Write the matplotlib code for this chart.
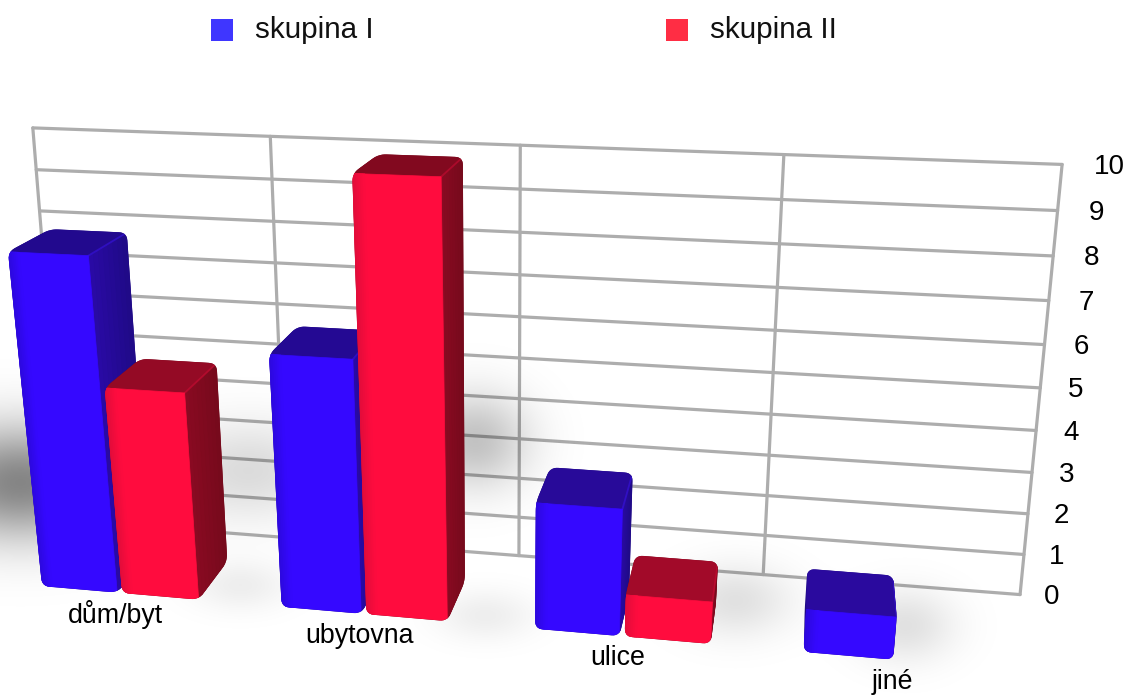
import numpy as np
import matplotlib
matplotlib.use("Agg")
import matplotlib.pyplot as plt
from matplotlib.patches import Polygon, Rectangle
from matplotlib.colors import to_rgb

# ---- data -----------------------------------------------------------
categories = ["dům/byt", "ubytovna", "ulice", "jiné"]
series_names = ["skupina I", "skupina II"]
skupina_1 = [8, 6, 3, 1]
skupina_2 = [5, 10, 1, 0]
y_ticks = list(range(0, 11))

# ---- perspective calibration (world x/value -> picture pixels) -------
WALL = [(0,10,32,127),(1,10,270,137),(2,10,520,146),(3,10,785,155),(4,10,1062,165),
        (2,0,520,555),(3,0,762,575),(4,0,1020,597),(0,8,40,212),(2,5,520,356),(4,5,1040,385)]
FRONT = [(.17,0,43,587),(.17,8,9,253),(.49,0,118,592),(.49,8,87,255),
         (.51,0,122,593),(.51,5,104,388),(.83,0,195,599),(.83,5,183,393),
         (1.17,0,283,607),(1.17,6,271,353),(1.49,0,362,613),(1.49,6,357,360),
         (1.51,0,366,615),(1.51,10,352,173),(1.83,0,445,622),(1.83,10,439,177),
         (2.17,0,537,628),(2.17,3,537,502),(2.49,0,620,636),(2.49,3,622,510),
         (2.51,0,624,636),(2.51,1,626,595),(2.83,0,709,644),(2.83,1,713,603),
         (3.17,0,805,652),(3.17,1,805,608),(3.49,0,893,660),(3.49,1,897,618)]
BACK = [(.17,8,50,229),(.49,8,125,233),(.51,5,142,359),(.83,5,215,363),(.83,0,227,560),
        (1.17,6,300,327),(1.51,10,382,154),(1.83,10,459,157),(1.83,0,464,583),
        (2.17,3,552,467),(2.49,3,633,473),(2.51,1,635,554),(2.83,1,717,562),(2.83,0,716,604),
        (3.17,1,808,568),(3.49,1,893,575)]


def fit_plane(pts):
    rows = []
    for X, Y, u, v in pts:
        u, v = u / 1000.0, v / 1000.0
        rows.append([X, Y, 1, 0, 0, 0, -u*X, -u*Y, -u])
        rows.append([0, 0, 0, X, Y, 1, -v*X, -v*Y, -v])
    return np.linalg.svd(np.array(rows, float))[2][-1].reshape(3, 3)


H_wall, H_front, H_back = fit_plane(WALL), fit_plane(FRONT), fit_plane(BACK)


def proj(H, X, Y):
    p = H @ np.array([X, Y, 1.0])
    return p[:2] / p[2] * 1000.0


def hull(points):
    pts = sorted({(float(p[0]), float(p[1])) for p in points})

    def half(seq):
        out = []
        for p in seq:
            while len(out) > 1 and ((out[-1][0]-out[-2][0])*(p[1]-out[-2][1])
                                    - (out[-1][1]-out[-2][1])*(p[0]-out[-2][0])) <= 0:
                out.pop()
            out.append(p)
        return out[:-1]
    return half(pts) + half(pts[::-1])


def rounded(poly, r):
    poly = [np.array(p) for p in poly]
    out = []
    n = len(poly)
    for i, p in enumerate(poly):
        a, b = poly[i-1], poly[(i+1) % n]
        ra = min(r, np.linalg.norm(a-p) * .45)
        rb = min(r, np.linalg.norm(b-p) * .45)
        s = p + (a-p) / np.linalg.norm(a-p) * ra
        e = p + (b-p) / np.linalg.norm(b-p) * rb
        for t in np.linspace(0, 1, 8):
            out.append((1-t)**2 * s + 2*t*(1-t) * p + t**2 * e)
    return np.array(out)


# ---- figure ---------------------------------------------------------
plt.rcParams["font.family"] = ["Liberation Sans", "DejaVu Sans"]
fig = plt.figure(figsize=(11.28, 6.96), dpi=100)
ax = fig.add_axes([0, 0, 1, 1])
ax.set_xlim(0, 1128)
ax.set_ylim(696, 0)
ax.axis("off")

# back wall grid
GRID = "#adadad"
for v in y_ticks:
    xs = np.array([proj(H_wall, x, v) for x in (0, 4)])
    ax.plot(xs[:, 0], xs[:, 1], color=GRID, lw=2.3, zorder=1, solid_capstyle="round")
for c in range(5):
    xs = np.array([proj(H_wall, c, v) for v in (0, 10)])
    ax.plot(xs[:, 0], xs[:, 1], color=GRID, lw=2.3, zorder=1, solid_capstyle="round")

# soft shadow cast behind and under the bars
yy, xx = np.mgrid[0:696, 0:1128]
blobs = [(20, 482, 70, 40, .48), (250, 470, 55, 35, .14), (475, 440, 38, 34, .24),
         (240, 585, 35, 18, .07), (485, 615, 35, 18, .07), (735, 600, 40, 26, .12),
         (905, 625, 35, 26, .12)]
shade = np.zeros(xx.shape)
for cx, cy, sx, sy, a in blobs:
    shade = 1 - (1 - shade) * (1 - a * np.exp(-((xx-cx)/sx)**2/2 - ((yy-cy)/sy)**2/2))
rgba = np.zeros(xx.shape + (4,))
rgba[..., 3] = shade
ax.imshow(rgba, extent=(0, 1128, 696, 0), zorder=2, aspect="auto", interpolation="bilinear")
ax.set_xlim(0, 1128)
ax.set_ylim(696, 0)


def mix(a, b, t):
    return tuple(np.array(to_rgb(a)) * (1 - t) + np.array(to_rgb(b)) * t)


def shaded_face(q, c_start, c_end, z, clip, n=14):
    """q = [p00, p10, p11, p01]; gradient runs from edge p00-p01 to p10-p11."""
    p00, p10, p11, p01 = q
    for i in range(n):
        t0, t1 = i / n, (i + 1) / n
        pts = [p00 + (p10-p00)*t0, p00 + (p10-p00)*t1, p01 + (p11-p01)*t1, p01 + (p11-p01)*t0]
        c = mix(c_start, c_end, (t0 + t1) / 2)
        patch = Polygon(pts, closed=True, fc=c, ec=c, lw=.5, zorder=z + .001)
        ax.add_patch(patch)
        patch.set_clip_path(clip)


STYLE = [dict(front="#3508ff", edge="#2c08dc", side0="#2a0aa6", side1="#1f0a86",
              top_low="#2b0aa0", top_high="#20098a", rim="#3a14e8"),
         dict(front="#ff0c3e", edge="#e00c3a", side0="#8a0a22", side1="#760a1c",
              top_low="#a60a2a", top_high="#82091f", rim="#d00c36")]
WIDTH = .32
OFFS = [.17, .51]

z = 3.0
for ci in range(len(categories)):
    for si, vals in enumerate((skupina_1, skupina_2)):
        val = vals[ci]
        if val <= 0:
            continue
        st = STYLE[si]
        x0 = ci + OFFS[si]
        x1 = x0 + WIDTH
        fbl, fbr = proj(H_front, x0, 0), proj(H_front, x1, 0)
        ftl, ftr = proj(H_front, x0, val), proj(H_front, x1, val)
        bbl, bbr = proj(H_back, x0, 0), proj(H_back, x1, 0)
        btl, btr = proj(H_back, x0, val), proj(H_back, x1, val)

        outline = rounded(hull([fbl, fbr, ftl, ftr, bbl, bbr, btl, btr]), 8)
        sil = Polygon(outline, closed=True, fc=st["side1"], ec="none", zorder=z)
        ax.add_patch(sil)
        if ftl[0] > btl[0]:
            shaded_face([ftl, btl, bbl, fbl], st["side1"], st["side1"], z, sil, n=1)
        shaded_face([ftr, btr, bbr, fbr], st["side0"], st["side1"], z + .01, sil, n=8)
        top = mix(st["top_low"], st["top_high"], val / 10)
        shaded_face([ftl, ftr, btr, btl], top, top, z + .02, sil, n=1)
        rim = ax.plot([ftr[0], btr[0]], [ftr[1], btr[1]], color=st["rim"], lw=1.3, alpha=.55,
                      zorder=z + .03, solid_capstyle="round")[0]
        rim.set_clip_path(sil)
        shaded_face([ftl, ftr, fbr, fbl], st["front"], st["front"], z + .04, sil, n=1)
        shaded_face([ftl, ftl + (ftr-ftl)*.14, fbl + (fbr-fbl)*.14, fbl], st["edge"], st["front"],
                    z + .05, sil, n=6)
        z += .1

# value labels on the right
for v in y_ticks:
    px = proj(H_wall, 4, v)
    ax.text(px[0] + 24 + .8 * v, px[1] + 2.5, str(v), fontsize=20, color="black",
            ha="left", va="center", zorder=20)

# category labels
LABEL_OFFSET = (-4, 22)
for ci, name in enumerate(categories):
    px = proj(H_front, ci + .5, 0)
    ax.text(px[0] + LABEL_OFFSET[0], px[1] + LABEL_OFFSET[1], name, fontsize=19.3, color="black",
            ha="center", va="center", zorder=20)

# legend
for name, col, x in zip(series_names, ["#3f36ff", "#ff2d44"], [211, 666]):
    ax.add_patch(Rectangle((x, 19), 22, 22, fc=col, ec="none", zorder=20))
    ax.text(x + 44, 30, name, fontsize=21.3, color="#111111", ha="left", va="center", zorder=20)

fig.savefig("out.png", dpi=100)
